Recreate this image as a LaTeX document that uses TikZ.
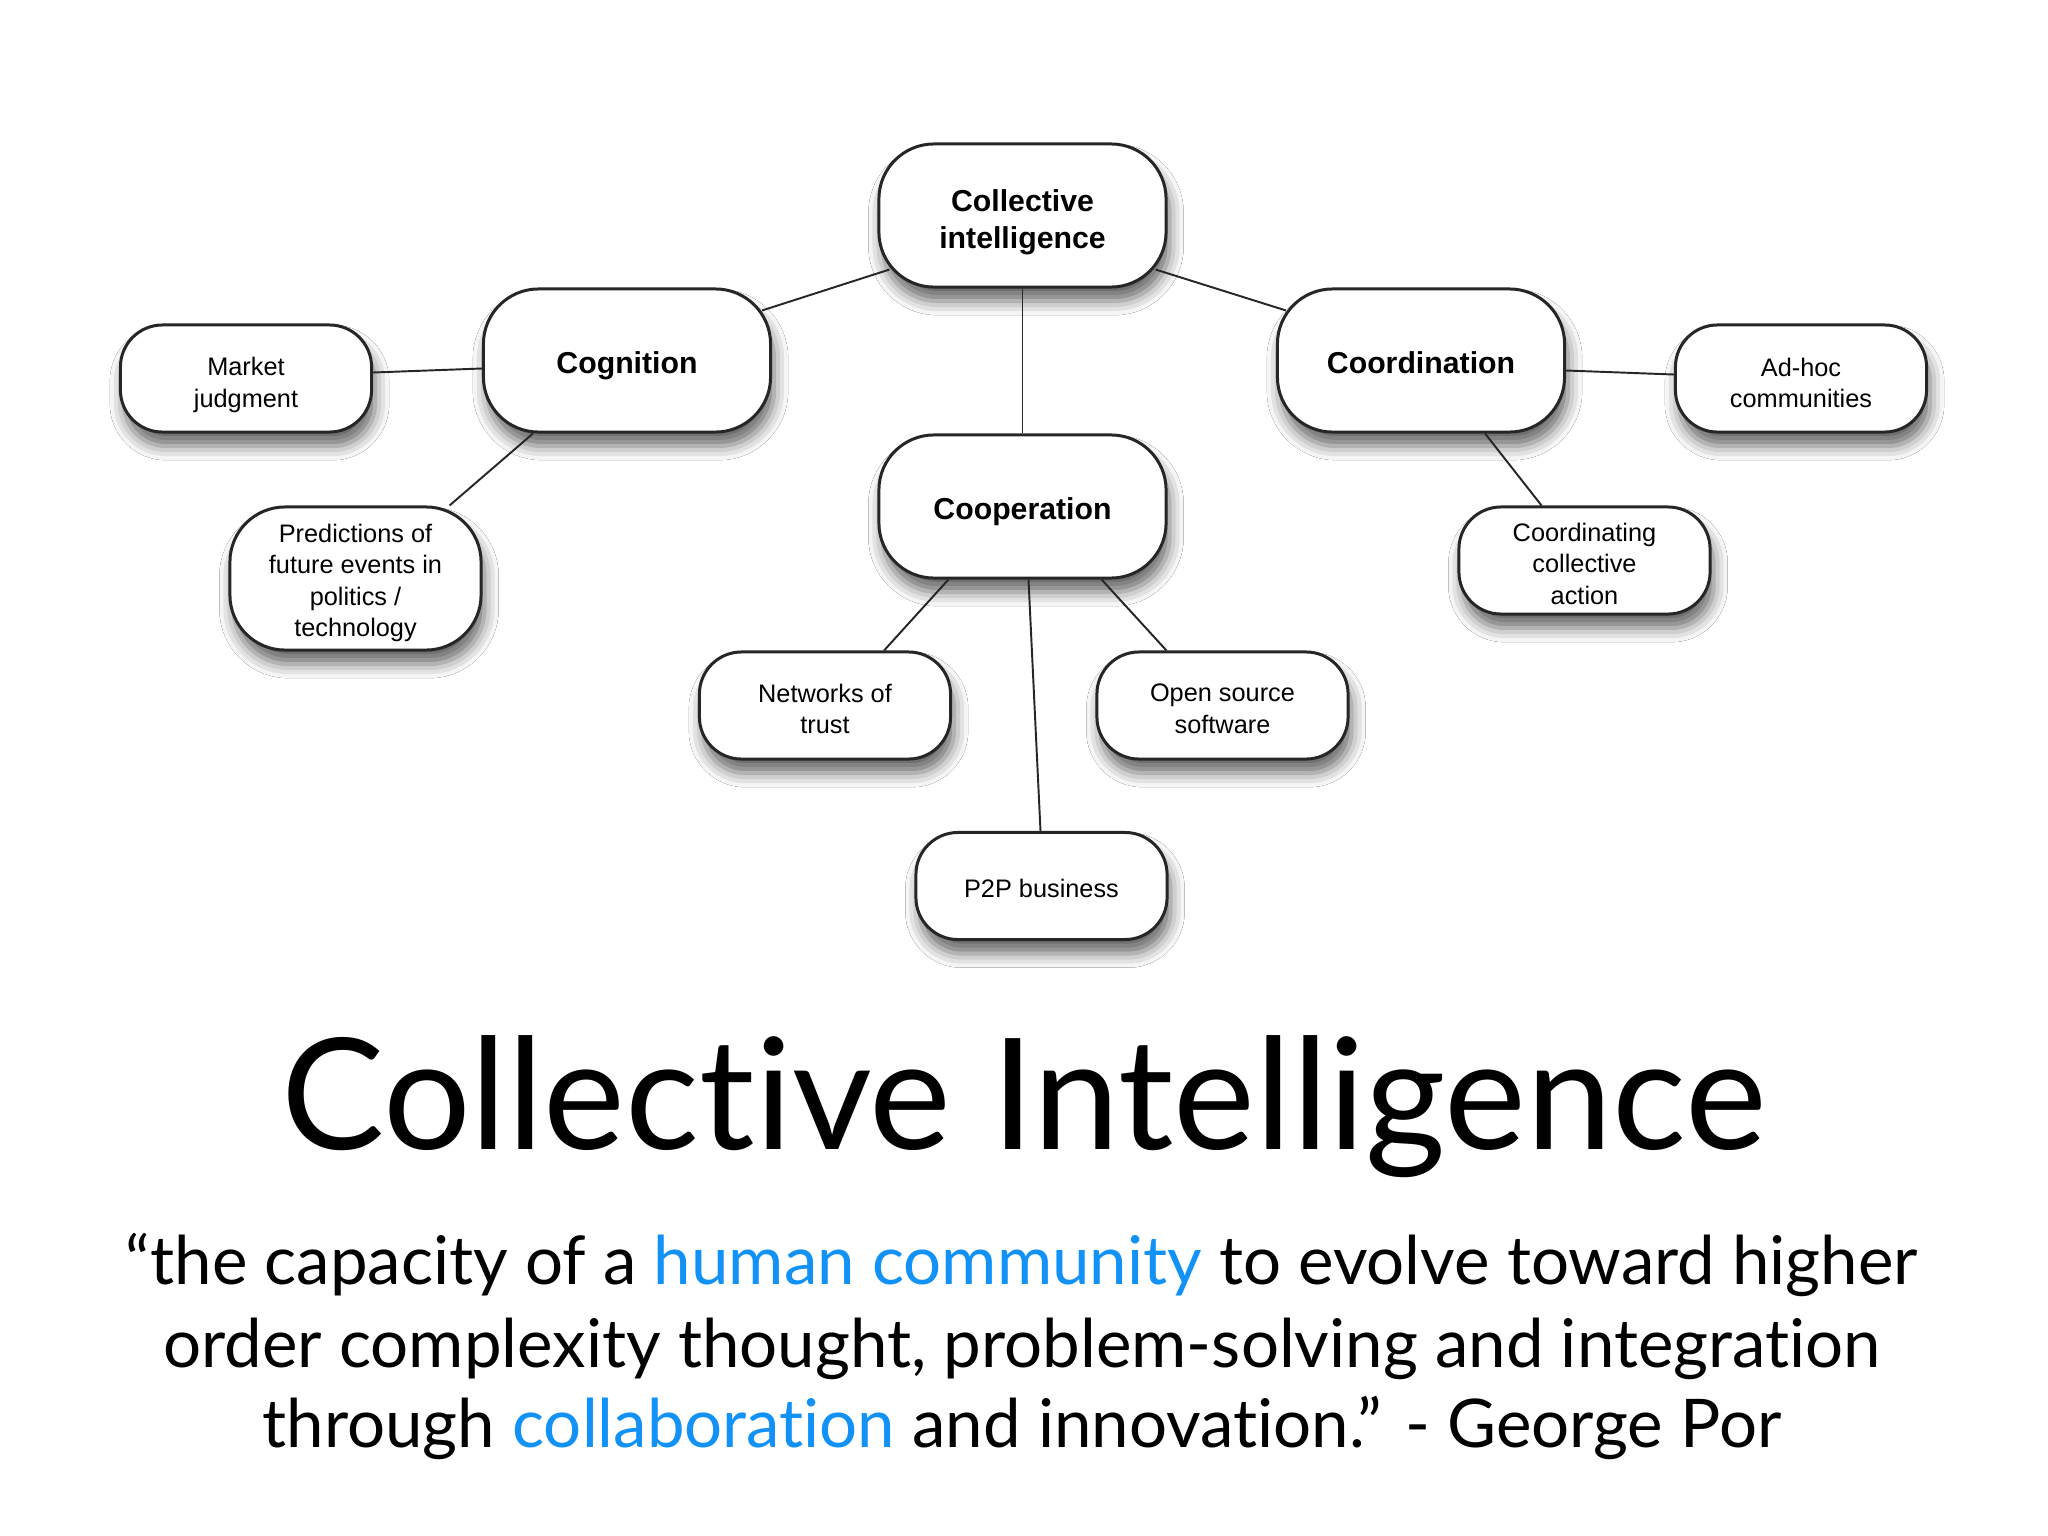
\documentclass[tikz,border=0pt]{standalone}
\usepackage{fontspec}
\setmainfont{Lato}[Ligatures={NoCommon,NoContextual}]
\newfontfamily\helv{Liberation Sans}
\usetikzlibrary{calc,shadows.blur}
\definecolor{qblue}{RGB}{18,146,246}
\tikzset{
  box/.style={draw=black!85, line width=0.85pt, fill=white, inner sep=0pt,
    blur shadow={shadow xshift=1pt, shadow yshift=-4pt, shadow blur radius=4pt, shadow opacity=60}},
  mainbox/.style={box, minimum width=2.87cm, minimum height=1.43cm, rounded corners=0.55cm},
  leafbox/.style={box, minimum width=2.51cm, minimum height=1.07cm, rounded corners=0.42cm},
  tallbox/.style={leafbox, minimum height=1.43cm, rounded corners=0.55cm},
  maintxt/.style={align=center, inner sep=0pt, font=\helv\fontsize{8.6}{10.4}\selectfont\bfseries},
  leaftxt/.style={align=center, inner sep=0pt, font=\helv\fontsize{7.2}{8.9}\selectfont},
  link/.style={draw=black!85, line width=0.55pt},
  quote/.style={anchor=base, inner sep=0pt, font=\fontsize{19.1}{23}\selectfont},
}
\begin{document}
\begin{tikzpicture}[x=0.01cm,y=-0.01cm]
\fill[white] (0,0) rectangle (2048,1536);
\useasboundingbox (0,0) rectangle (2048,1536);

% boxes
\node[mainbox] (ci)    at (1022.5,215.5) {};
\node[mainbox] (cog)   at (627,360.5)    {};
\node[mainbox] (coord) at (1421,360.5)   {};
\node[mainbox] (coop)  at (1022.5,506.5) {};
\node[leafbox] (mkt)    at (246,378.5)    {};
\node[tallbox] (pred)   at (355.5,578.5)  {};
\node[leafbox] (net)    at (825,705.5)    {};
\node[leafbox] (open)   at (1222.5,705.5) {};
\node[leafbox] (p2p)    at (1041.5,886)   {};
\node[leafbox] (adhoc)  at (1801,378.5)   {};
\node[leafbox] (coordg) at (1584.5,560.5) {};

% box texts
\node[maintxt] (ci-t)    at ($(ci)+(0,6.5)$)    {Collective\\intelligence};
\node[maintxt] (cog-t)   at ($(cog)+(0,5)$)     {Cognition};
\node[maintxt] (coord-t) at ($(coord)+(0,2.6)$) {Coordination};
\node[maintxt] (coop-t)  at ($(coop)+(0,5)$)    {Cooperation};
\node[leaftxt] (mkt-t)    at ($(mkt)+(0,6.5)$)    {Market\\judgment};
\node[leaftxt] (pred-t)   at ($(pred)+(0,4.5)$)   {Predictions of\\future events in\\politics /\\technology};
\node[leaftxt] (net-t)    at ($(net)+(0,3.3)$)    {Networks of\\trust};
\node[leaftxt] (open-t)   at ($(open)+(0,3.3)$)   {Open source\\software};
\node[leaftxt] (p2p-t)    at ($(p2p)+(0,2.6)$)    {P2P business};
\node[leaftxt] (adhoc-t)  at ($(adhoc)+(0,4.5)$)  {Ad-hoc\\communities};
\node[leaftxt] (coordg-t) at ($(coordg)+(0,3.3)$) {Coordinating\\collective\\action};

% connectors
\draw[link] ($(ci.south west)+(12,-19)$) -- ($(cog.north east)+(-10,23)$);
\draw[link] ($(ci.south east)+(-12,-19)$) -- ($(coord.north west)+(10,23)$);
\draw[link] (ci.south) -- (coop.north);
\draw[link] ($(mkt.east)+(0,-6)$) -- ($(cog.west)+(0,8)$);
\draw[link] ($(cog.south west)+(51,0)$) -- ($(pred.north east)+(-33,0)$);
\draw[link] ($(coord.east)+(0,10)$) -- ($(adhoc.west)+(0,-4)$);
\draw[link] ($(coord.south east)+(-81,0)$) -- ($(coordg.north)+(-43,0)$);
\draw[link] ($(coop.south west)+(71,0)$) -- ($(net.north east)+(-68,0)$);
\draw[link] ($(coop.south east)+(-66,0)$) -- ($(open.north west)+(71,0)$);
\draw[link] ($(coop.south)+(6,0)$) -- ($(p2p.north)+(-1,0)$);

% title and quote
\node[anchor=base, inner sep=0pt, font=\fontsize{44}{50}\selectfont] (title) at (1024,1149) {Collective Intelligence};
\node[quote] (q1) at (1022,1284) {“the capacity of a \textcolor{qblue}{human community} to evolve toward higher};
\node[quote] (q2) at (1022,1367) {order complexity thought, problem-solving and integration};
\node[quote] (q3) at (1022,1447) {through \textcolor{qblue}{collaboration} and innovation.” - George Por};
\end{tikzpicture}
\end{document}
